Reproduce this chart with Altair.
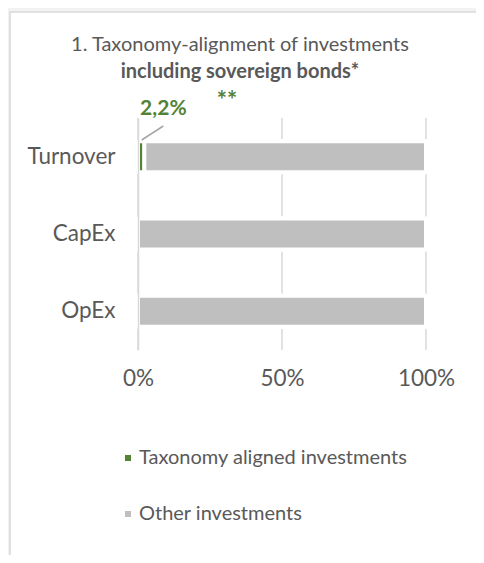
import altair as alt
import pandas as pd

categories = ["Turnover", "CapEx", "OpEx"]
series = ["Taxonomy aligned investments", "Other investments"]
aligned = [2.2, 0.0, 0.0]
other = [97.8, 100.0, 100.0]
ticks = [0, 50, 100]
title_1 = "1. Taxonomy-alignment of investments"
title_2 = "including sovereign bonds*"
footnote_mark = "**"

GREEN = "#548235"
GREY = "#bfbfbf"
GRID = "#d9d9d9"
TXT = "#595959"
FONT = "Lato"

rows = []
for c, a, o in zip(categories, aligned, other):
    rows.append({"cat": c, "series": series[0], "value": a, "ord": 0})
    rows.append({"cat": c, "series": series[1], "value": o, "ord": 1})
df = pd.DataFrame(rows)
under = pd.DataFrame({"cat": categories, "start": [0] * 3, "end": [100] * 3})
grid = pd.DataFrame({"v": ticks})
lab = pd.DataFrame({"cat": [categories[0]], "value": [aligned[0]],
                    "label": [f"{aligned[0]:.1f}".replace(".", ",") + "%"]})
one = pd.DataFrame({"a": [0]})

xscale = alt.Scale(domain=[0, 100], nice=False)
yscale = alt.Scale(domain=categories, paddingInner=0.6, paddingOuter=0.3)

xaxis = alt.Axis(values=ticks, labelExpr="datum.value + '%'", grid=False, domain=False,
                 ticks=False, labelFlush=False, labelFont=FONT, labelFontSize=22.5,
                 labelColor=TXT, labelPadding=17, title=None, zindex=1)
yaxis = alt.Axis(grid=False, ticks=False, domain=True, domainColor=GRID, domainWidth=1.5,
                 labelFont=FONT, labelFontSize=22.5, labelColor=TXT, labelPadding=23,
                 title=None, zindex=1)

box = alt.Chart(one).mark_rect(fill="white", stroke=GRID, strokeWidth=1.5).encode(
    x=alt.value(-128), x2=alt.value(344), y=alt.value(-106), y2=alt.value(470))

gridlines = alt.Chart(grid).mark_rule(color=GRID, strokeWidth=1.5).encode(
    x=alt.X("v:Q", scale=xscale, axis=xaxis))

underlay = alt.Chart(under).mark_bar(color="white", size=35).encode(
    x=alt.X("start:Q", scale=xscale), x2="end:Q",
    y=alt.Y("cat:N", scale=yscale, sort=categories, axis=yaxis))

bars = alt.Chart(df).mark_bar(stroke="white", strokeWidth=4).encode(
    x=alt.X("value:Q", stack="zero", scale=xscale),
    y=alt.Y("cat:N", scale=yscale, sort=categories),
    color=alt.Color("series:N", scale=alt.Scale(domain=series, range=[GREEN, GREY]),
                    legend=alt.Legend(orient="none", legendX=-20, legendY=330,
                                      direction="vertical", title=None,
                                      symbolType="square", symbolSize=36,
                                      symbolStrokeWidth=0, labelFont=FONT,
                                      labelFontSize=20, labelColor=TXT, labelLimit=0,
                                      labelOffset=1, rowPadding=36)),
    order=alt.Order("ord:Q"))

leader = alt.Chart(one).mark_rule(color="#a6a6a6", strokeWidth=1.5).encode(
    x=alt.value(3.7), x2=alt.value(25.3), y=alt.value(22), y2=alt.value(8))

pct = alt.Chart(lab).mark_text(font=FONT, fontSize=21, fontWeight="bold", color=GREEN,
                               dx=19, dy=-48, baseline="middle").encode(
    x=alt.X("value:Q", scale=xscale), y=alt.Y("cat:N", scale=yscale, sort=categories),
    text="label:N")

stars = alt.Chart(one).mark_text(font=FONT, fontSize=24, fontWeight="bold", color=GREEN,
                                 baseline="middle").encode(
    x=alt.value(89), y=alt.value(-16), text=alt.value(footnote_mark))

t1 = alt.Chart(one).mark_text(font=FONT, fontSize=20, color=TXT, baseline="middle").encode(
    x=alt.value(102), y=alt.value(-73), text=alt.value(title_1))
t2 = alt.Chart(one).mark_text(font=FONT, fontSize=20, fontWeight="bold", color=TXT,
                              baseline="middle").encode(
    x=alt.value(102), y=alt.value(-46), text=alt.value(title_2))

chart = alt.layer(box, gridlines, underlay, bars, leader, pct, stars, t1, t2).properties(
    width=288, height=232, autosize="none",
    padding={"left": 130, "top": 110, "right": 50, "bottom": 205},
    background="#f2f2f2",
).configure_view(stroke=None).resolve_scale(x="shared", y="shared")

chart.save("out.html", embed_options={"renderer": "svg", "actions": False})
